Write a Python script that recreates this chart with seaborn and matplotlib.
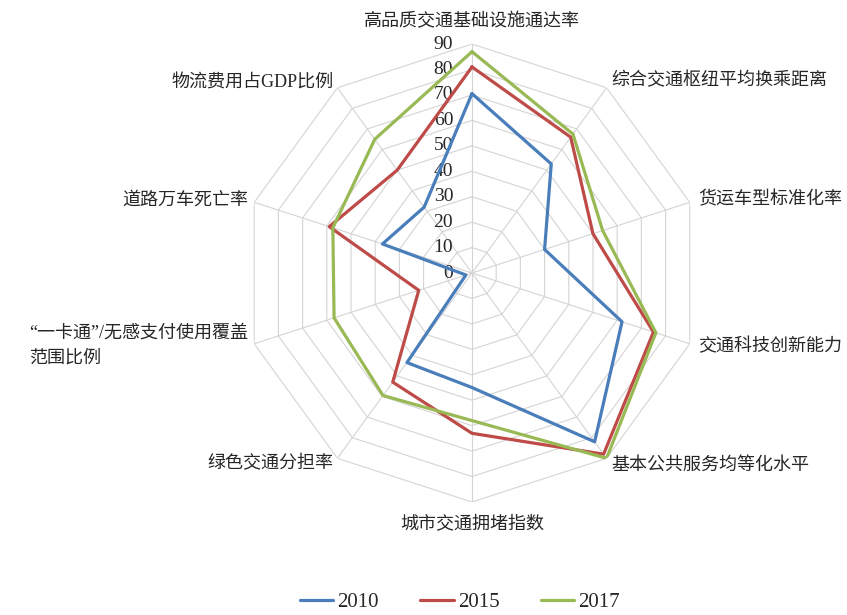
import numpy as np
import pandas as pd
import seaborn as sns
import matplotlib.pyplot as plt

# indicator names around the radar, clockwise from the top
categories = ['高品质交通基础设施通达率', '综合交通枢纽平均换乘距离', '货运车型标准化率',
              '交通科技创新能力', '基本公共服务均等化水平', '城市交通拥堵指数',
              '绿色交通分担率', '“一卡通”/无感支付使用覆盖\n范围比例', '道路万车死亡率',
              '物流费用占GDP比例']
years = ['2010', '2015', '2017']
v2010 = [70.5, 53, 30, 62, 82, 45, 43.5, 2.5, 37, 32]
v2015 = [81, 66, 50, 75, 88, 63, 53, 22, 59, 50]
v2017 = [87, 67.5, 54, 76, 90, 58, 59.5, 57, 57.5, 65]
r_ticks = [0, 10, 20, 30, 40, 50, 60, 70, 80, 90]

colors = ['#4a7ebb', '#be4b48', '#98b954']

sns.set_style('white')
plt.rcParams['font.family'] = ['Liberation Serif', 'Noto Sans CJK SC']

n = len(categories)
angles = np.linspace(0, 2 * np.pi, n, endpoint=False)

# long table, each series closed back to its first point
rows = []
for year, vals in zip(years, [v2010, v2015, v2017]):
    for a, v in zip(list(angles) + [2 * np.pi], vals + vals[:1]):
        rows.append({'angle': a, 'value': v, 'year': year})
df = pd.DataFrame(rows)

fig = plt.figure(figsize=(8.47, 6.15), dpi=100)
ax = fig.add_axes([0.2869, 0.1837, 0.5407, 0.7447], projection='polar')
ax.set_theta_zero_location('N')
ax.set_theta_direction(-1)

# decagon grid instead of circles
grid_theta = list(angles) + [2 * np.pi]
for t in r_ticks[1:]:
    ax.plot(grid_theta, [t] * len(grid_theta), color='#d4d4d4', lw=0.8, zorder=1)
for a in angles:
    ax.plot([a, a], [0, r_ticks[-1]], color='#d4d4d4', lw=0.8, zorder=1)

sns.lineplot(data=df, x='angle', y='value', hue='year', palette=colors,
             sort=False, estimator=None, linewidth=2.3, ax=ax, zorder=3)

ax.set_ylim(0, 90)
ax.grid(False)
ax.spines['polar'].set_visible(False)
ax.set_xticks([])
ax.set_yticks([])
ax.set_xlabel('')
ax.set_ylabel('')

# radial value labels along the top spoke
for t in r_ticks:
    ax.annotate(str(t), xy=(0, t), xytext=(-13.5, 0), textcoords='offset points',
                ha='right', va='center', fontsize=14, zorder=2)

# category labels
for i, (a, lab) in enumerate(zip(angles, categories)):
    if i == 0 or i == 5:
        ax.text(a, 99, lab, ha='center', va='center', fontsize=13)
    elif i < 5:
        ax.text(a, 93.5, lab, ha='left', va='center', fontsize=13)
    else:
        ax.text(a, 92.5, lab, ha='right', va='center', fontsize=13,
                multialignment='left', linespacing=1.6)

handles, labels = ax.get_legend_handles_labels()
ax.get_legend().remove()
fig.legend(handles, labels, loc='center', bbox_to_anchor=(0.543, 0.02), ncol=3,
           frameon=False, fontsize=15, handlelength=1.6, handletextpad=0.2,
           columnspacing=2.0)

fig.savefig('out.png', dpi=100)
